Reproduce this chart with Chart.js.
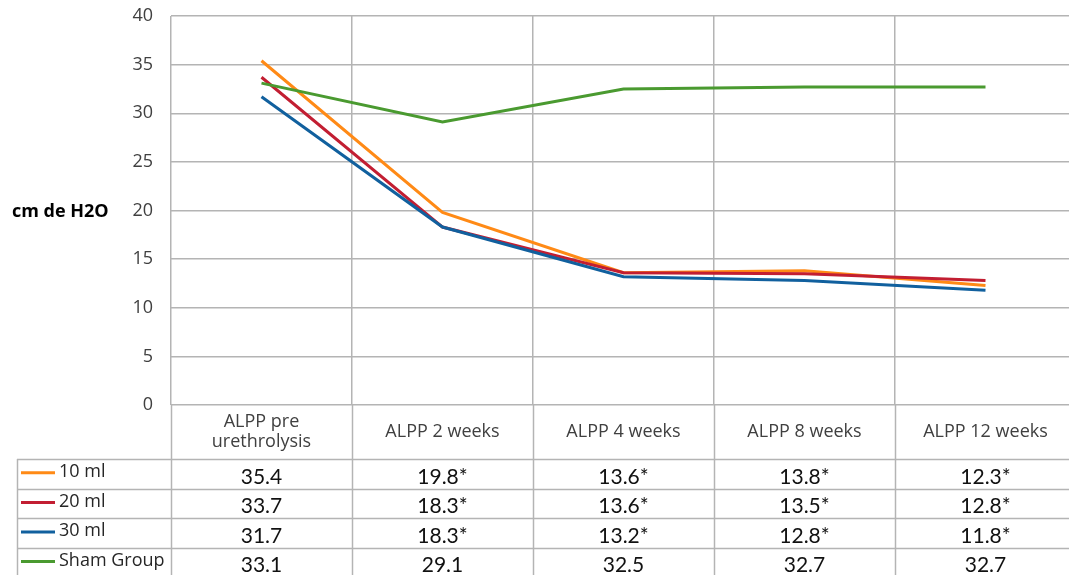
<!DOCTYPE html>
<html>
<head>
<meta charset="utf-8">
<script src="https://cdn.jsdelivr.net/npm/chart.js@4"></script>
<style>
html,body{margin:0;padding:0;background:#fff;overflow:hidden;}
#wrap{width:1090px;height:575px;}
</style>
</head>
<body>
<div id="wrap"><canvas id="c" width="1090" height="575"></canvas></div>
<script>
const categories = [["ALPP pre", "urethrolysis"], ["ALPP 2 weeks"], ["ALPP 4 weeks"], ["ALPP 8 weeks"], ["ALPP 12 weeks"]];
const seriesNames = ["10 ml", "20 ml", "30 ml", "Sham Group"];
const values10 = [35.4, 19.8, 13.6, 13.8, 12.3];
const values20 = [33.7, 18.3, 13.6, 13.5, 12.8];
const values30 = [31.7, 18.3, 13.2, 12.8, 11.8];
const valuesSham = [33.1, 29.1, 32.5, 32.7, 32.7];
const signif10 = [false, true, true, true, true];
const signif20 = [false, true, true, true, true];
const signif30 = [false, true, true, true, true];
const signifSham = [false, false, false, false, false];
const yTicks = [0, 5, 10, 15, 20, 25, 30, 35, 40];
const yTitle = "cm de H2O";

const colors = ["#FF8A16", "#C21E32", "#11609E", "#4A9A30"];
const allValues = [values10, values20, values30, valuesSham];
const allSignif = [signif10, signif20, signif30, signifSham];
const gridColor = "#b4b4b4";

const tablePlugin = {
  id: "dataTable",
  afterDraw(chart) {
    const ctx = chart.ctx;
    const xs = chart.scales.x;
    const ca = chart.chartArea;
    const H = chart.height;
    const top = ca.bottom;
    const headerBottom = top + 54;
    const rowH = 29.6;
    const tableLeft = 17;
    const right = chart.width;
    ctx.save();
    ctx.strokeStyle = gridColor;
    ctx.lineWidth = 1.5;
    const n = categories.length;
    const step = (ca.right - ca.left) / n;
    for (let i = 0; i <= n; i++) {
      const x = Math.round(ca.left + step * i) + 0.5;
      ctx.beginPath(); ctx.moveTo(x, top); ctx.lineTo(x, H); ctx.stroke();
    }
    ctx.beginPath(); ctx.moveTo(tableLeft + 0.5, headerBottom); ctx.lineTo(tableLeft + 0.5, H); ctx.stroke();
    for (let r = 0; r < seriesNames.length; r++) {
      const y = Math.round(headerBottom + rowH * r) + 0.5;
      ctx.beginPath(); ctx.moveTo(tableLeft, y); ctx.lineTo(right, y); ctx.stroke();
    }
    // header labels
    ctx.fillStyle = "#404040";
    ctx.font = "18px 'Open Sans'";
    ctx.textAlign = "center";
    ctx.textBaseline = "middle";
    categories.forEach((lab, i) => {
      const cx = xs.getPixelForValue(i);
      const mid = (top + headerBottom) / 2;
      const lh = 20;
      lab.forEach((line, k) => {
        ctx.fillText(line, cx, mid + (k - (lab.length - 1) / 2) * lh);
      });
    });
    // rows
    for (let r = 0; r < seriesNames.length; r++) {
      const y0 = headerBottom + rowH * r;
      const mid = y0 + rowH / 2;
      ctx.strokeStyle = colors[r];
      ctx.lineWidth = 3;
      ctx.beginPath(); ctx.moveTo(21, mid - 1); ctx.lineTo(55, mid - 1); ctx.stroke();
      ctx.fillStyle = "#262626";
      ctx.font = "18px 'Open Sans'";
      ctx.textAlign = "left";
      ctx.fillText(seriesNames[r], 59, mid - 2);
      ctx.fillStyle = "#111";
      ctx.font = "21px Lato";
      ctx.textAlign = "center";
      allValues[r].forEach((v, i) => {
        const cx = xs.getPixelForValue(i);
        ctx.fillText(v.toFixed(1) + (allSignif[r][i] ? "*" : ""), cx, mid + 3);
      });
    }
    // y title
    ctx.fillStyle = "#000";
    ctx.font = "bold 18px 'Open Sans'";
    ctx.textAlign = "left";
    ctx.fillText(yTitle, 12, chart.scales.y.getPixelForValue(20) + 1);
    ctx.restore();
  }
};

const datasets = seriesNames.map((name, i) => ({
  label: name,
  data: allValues[i],
  borderColor: colors[i],
  backgroundColor: colors[i],
  borderWidth: 3,
  pointRadius: 0,
  tension: 0,
  fill: false,
  order: seriesNames.length - i
}));

new Chart(document.getElementById("c"), {
  type: "line",
  data: { labels: categories.map(c => c.join(" ")), datasets },
  options: {
    responsive: false,
    animation: false,
    devicePixelRatio: 1,
    layout: { padding: { left: 0, top: 16, right: 14, bottom: 170 } },
    plugins: { legend: { display: false }, tooltip: { enabled: false } },
    scales: {
      x: {
        offset: true,
        grid: { offset: true, color: gridColor, lineWidth: 1.5, drawTicks: false },
        border: { display: false },
        ticks: { display: false },
        afterFit(s) { s.height = 0; s.paddingTop = 0; s.paddingBottom = 0; }
      },
      y: {
        min: 0, max: 40,
        afterBuildTicks(s) { s.ticks = yTicks.map(v => ({ value: v })); },
        grid: { color: gridColor, lineWidth: 1.5, drawTicks: false },
        border: { display: false },
        ticks: { padding: 18, color: "#404040", font: { family: "'Open Sans'", size: 18 } },
        afterFit(s) { s.width = 171; s.paddingTop = 0; s.paddingBottom = 0; }
      }
    }
  },
  plugins: [tablePlugin]
});
</script>
</body>
</html>
